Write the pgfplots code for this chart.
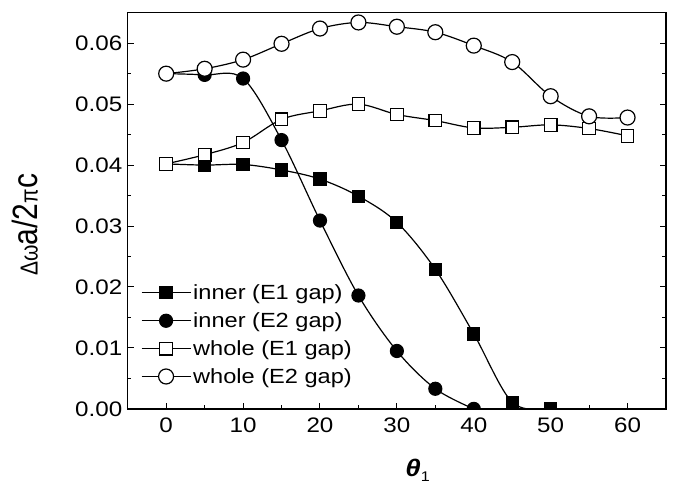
\documentclass[border=0pt]{standalone}
\usepackage{fontspec}
\setmainfont{Liberation Sans}[FakeStretch=1.15]
\newfontfamily\plainsans{Liberation Sans}
\usepackage{pgfplots}
\pgfplotsset{compat=1.18}

\begin{document}
\begin{tikzpicture}
\useasboundingbox (-127.7pt,-78pt) rectangle (545pt,408.7pt);
\begin{axis}[
    scale only axis,
    width=538pt, height=396pt,
    xmin=-5, xmax=65, ymin=0, ymax=0.065,
    xtick={0,10,...,60}, minor xtick={5,15,...,55},
    ytick={0,0.01,0.02,0.03,0.04,0.05,0.06},
    minor ytick={0.005,0.015,0.025,0.035,0.045,0.055},
    xtick pos=left, ytick pos=both,
    tick align=inside,
    major tick length=6pt, minor tick length=3.5pt,
    every tick/.style={black, line width=1pt},
    axis line style={line width=1.3pt},
    scaled y ticks=false,
    yticklabel style={/pgf/number format/fixed, /pgf/number format/fixed zerofill,
        /pgf/number format/precision=2, xshift=-2pt},
    /pgf/number format/assume math mode=true,
    tick label style={font=\fontsize{21}{21}\selectfont},
    xticklabel style={yshift=-5pt},
    xlabel={{\fontsize{24}{24}\selectfont\bfseries\itshape θ}\raisebox{-5pt}{\fontsize{14}{14}\selectfont 1}},
    xlabel style={at={(rel axis cs:0.5154,-0.1717)}, anchor=base west, inner sep=0pt},
    ylabel={\plainsans\scalebox{1}[1.17]{\fontsize{30}{30}\selectfont{\fontsize{21}{21}\selectfont Δω}a/2{\fontsize{21}{21}\selectfont π}c}},
    ylabel style={at={(rel axis cs:-0.191,0.465)}, anchor=center},
    clip marker paths=true,
    legend cell align=left,
    legend style={draw=none, fill=none, at={(0,0)}, anchor=south west,
        xshift=13pt, yshift=22pt, inner sep=0pt, row sep=7.5pt,
        font=\fontsize{20.5}{20.5}\selectfont},
    legend image code/.code={\draw[mark repeat=2,mark phase=2]
        plot coordinates {(0pt,0pt) (24.5pt,0pt) (49pt,0pt)};},
    every axis plot/.append style={black, line width=1.2pt, smooth, tension=0.55,
        mark options={line width=1pt, solid}},
]
% inner (E1 gap)
\addplot[mark=square*, mark size=6pt, mark options={fill=black}] coordinates {
(0,0.0402) (5,0.0400) (10,0.0401) (15,0.0392) (20,0.0377) (25,0.0349)
(30,0.0306) (35,0.0229) (40,0.0123) (45,0.0011) (50,0.0)};
% inner (E2 gap)
\addplot[mark=*, mark size=6.5pt, mark options={fill=black}] coordinates {
(0,0.0550) (5,0.0548) (10,0.0542) (15,0.0441) (20,0.0309) (25,0.0186)
(30,0.0095) (35,0.0033) (40,0.0)};
% whole (E1 gap)
\addplot[mark=square*, mark size=6.3pt, mark options={fill=white}] coordinates {
(0,0.0402) (5,0.0417) (10,0.0437) (15,0.0475) (20,0.0489) (25,0.0500)
(30,0.0483) (35,0.0473) (40,0.0461) (45,0.0462) (50,0.0466) (55,0.0460) (60,0.0448)};
% whole (E2 gap)
\addplot[mark=*, mark size=7.5pt, mark options={fill=white}] coordinates {
(0,0.0550) (5,0.0558) (10,0.0573) (15,0.0599) (20,0.0624) (25,0.0634)
(30,0.0627) (35,0.0618) (40,0.0596) (45,0.0569) (50,0.0513) (55,0.0480) (60,0.0478)};
\legend{inner (E1 gap),inner (E2 gap),whole (E1 gap),whole (E2 gap)}
\end{axis}
\end{tikzpicture}
\end{document}
